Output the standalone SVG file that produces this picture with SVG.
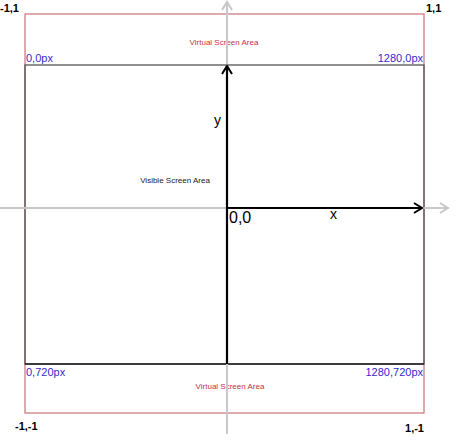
<svg xmlns="http://www.w3.org/2000/svg" width="464" height="447" viewBox="0 0 464 447">
<style>
.lbl{font-family:"Liberation Sans",Arial,sans-serif}
.corner{font-size:11px;font-weight:bold;fill:#000}
.px{font-size:11px;fill:#3a1fd0}
.red{font-size:8px;fill:#c8313f}
.axis{font-size:14px;fill:#000}
</style>
<defs>
<marker id="ga" markerWidth="12" markerHeight="12" refX="10" refY="6" orient="auto" markerUnits="userSpaceOnUse">
<path d="M2,1 L10,6 L2,11" fill="none" stroke="#c8c8c8" stroke-width="2"/>
</marker>
<marker id="ba" markerWidth="12" markerHeight="12" refX="10" refY="6" orient="auto" markerUnits="userSpaceOnUse">
<path d="M2,1 L10,6 L2,11" fill="none" stroke="#000" stroke-width="2"/>
</marker>
</defs>
<rect width="464" height="447" fill="#fff"/>
<g id="virtual-area">
<rect x="25" y="14" width="399" height="399" fill="none" stroke="#c8727a" stroke-width="1.2"/>
<text class="lbl red" x="224" y="45" text-anchor="middle">Virtual Screen Area</text>
<text class="lbl red" x="230" y="389" text-anchor="middle">Virtual Screen Area</text>
</g>
<g id="visible-area">
<rect x="25" y="65" width="399" height="299" fill="none" stroke="#555" stroke-width="1.3"/>
<line x1="25" y1="364" x2="424" y2="364" stroke="#222" stroke-width="1.3"/>
<text class="lbl" x="175" y="183" text-anchor="middle" font-size="8" fill="#222">Visible Screen Area</text>
</g>
<g id="connectors">
<line x1="0" y1="208" x2="448" y2="208" stroke="#c8c8c8" stroke-width="2" marker-end="url(#ga)"/>
<line x1="227" y1="434" x2="227" y2="2" stroke="#c8c8c8" stroke-width="2" marker-end="url(#ga)"/>
<line x1="227" y1="208" x2="422" y2="208" stroke="#000" stroke-width="2.2" marker-end="url(#ba)"/>
<line x1="227" y1="364" x2="227" y2="66" stroke="#000" stroke-width="2.2" marker-end="url(#ba)"/>
</g>
<g id="labels">
<text class="lbl corner" x="0" y="12">-1,1</text>
<text class="lbl corner" x="426" y="12">1,1</text>
<text class="lbl corner" x="15" y="430">-1,-1</text>
<text class="lbl corner" x="424" y="432" text-anchor="end">1,-1</text>
<text class="lbl px" x="26" y="62">0,0px</text>
<text class="lbl px" x="423" y="62" text-anchor="end">1280,0px</text>
<text class="lbl px" x="26" y="376">0,720px</text>
<text class="lbl px" x="423" y="376" text-anchor="end">1280,720px</text>
<text class="lbl axis" x="214" y="125">y</text>
<text class="lbl axis" x="330" y="219">x</text>
<text class="lbl" x="229" y="223" font-size="16" fill="#000">0,0</text>
</g>
</svg>
